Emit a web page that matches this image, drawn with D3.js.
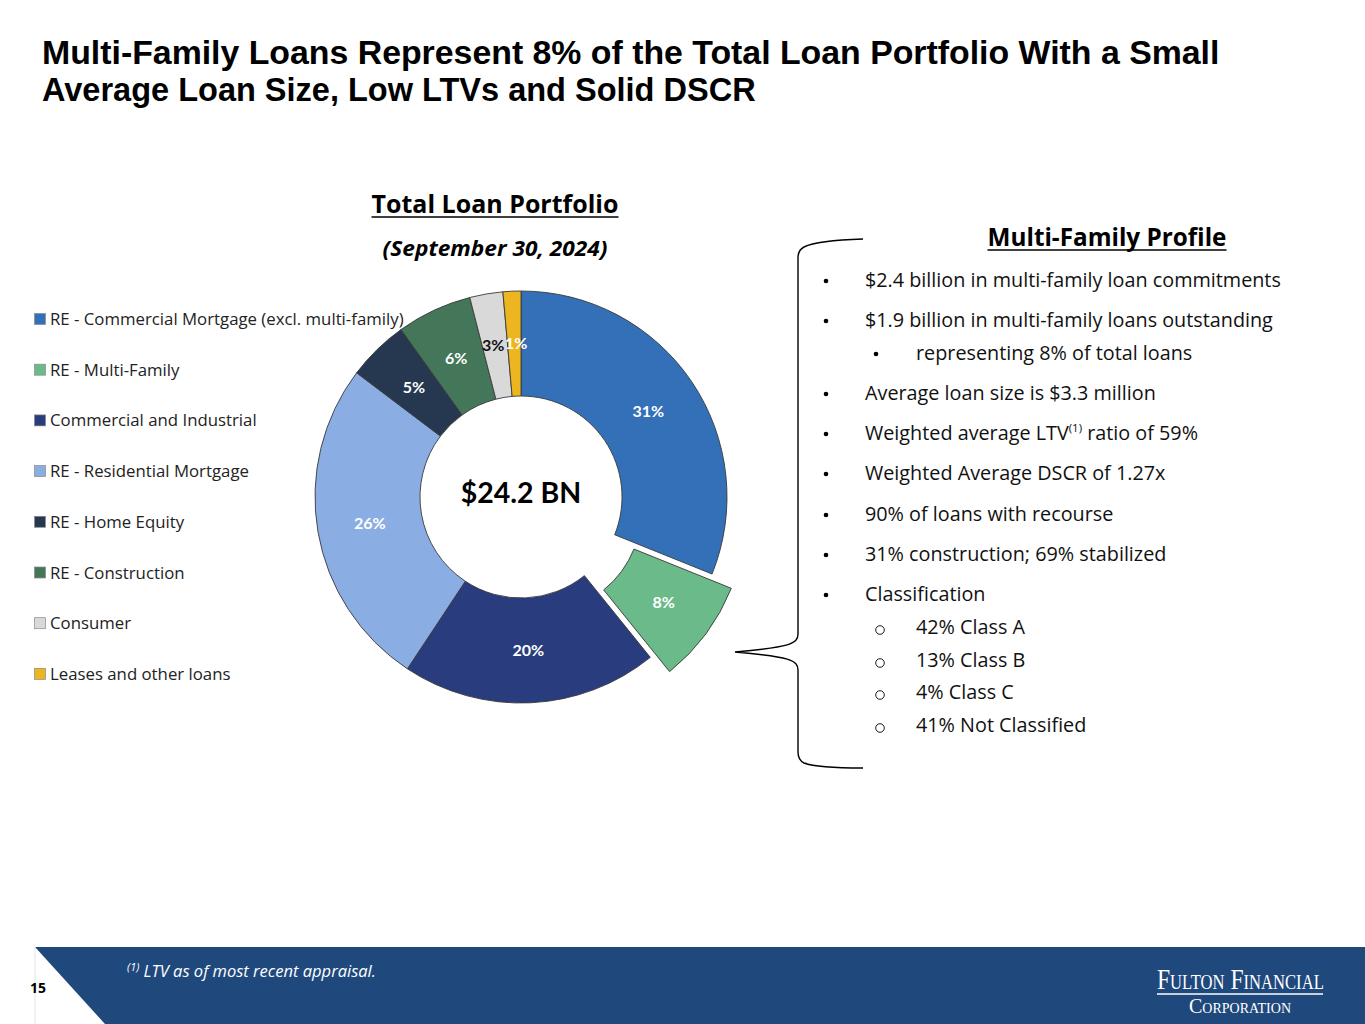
<!DOCTYPE html>
<html>
<head>
<meta charset="utf-8">
<script src="https://cdn.jsdelivr.net/npm/d3@7"></script>
<style>
	body { margin: 0; background: #ffffff; }
	svg { display: block; }
</style>
</head>
<body>
<div id="chart"></div>
<script>
// Slide data
var titleLines = [
	"Multi-Family Loans Represent 8% of the Total Loan Portfolio With a Small",
	"Average Loan Size, Low LTVs and Solid DSCR"
];
var chartTitle = "Total Loan Portfolio";
var chartDate = "(September 30, 2024)";
var totalLabel = "$24.2 BN";

var categories = [
	"RE - Commercial Mortgage (excl. multi-family)",
	"RE - Multi-Family",
	"Commercial and Industrial",
	"RE - Residential Mortgage",
	"RE - Home Equity",
	"RE - Construction",
	"Consumer",
	"Leases and other loans"
];
var shares = [31.1, 8.1, 20.1, 26.0, 4.8, 5.9, 2.6, 1.4];
var sliceColors = ["#3470b8", "#6bba8a", "#283c7e", "#8aaee3", "#263850", "#44775a", "#d9d9d9", "#edb620"];
var explodedCategory = "RE - Multi-Family";

var profileTitle = "Multi-Family Profile";
var profileItems = [
	{ level: 0, text: "$2.4 billion in multi-family loan commitments" },
	{ level: 0, text: "$1.9 billion in multi-family loans outstanding" },
	{ level: 1, text: "representing 8% of total loans" },
	{ level: 0, text: "Average loan size is $3.3 million" },
	{ level: 0, text: "Weighted average LTV", sup: "(1)", after: " ratio of 59%" },
	{ level: 0, text: "Weighted Average DSCR of 1.27x" },
	{ level: 0, text: "90% of loans with recourse" },
	{ level: 0, text: "31% construction; 69% stabilized" },
	{ level: 0, text: "Classification" },
	{ level: 2, text: "42% Class A" },
	{ level: 2, text: "13% Class B" },
	{ level: 2, text: "4% Class C" },
	{ level: 2, text: "41% Not Classified" }
];
var footnote = " LTV as of most recent appraisal.";
var pageNumber = "15";

var W = 1365, H = 1024;
var sans = "'Open Sans', 'Noto Sans', sans-serif";
var narrow = "'Liberation Sans Narrow', 'Liberation Sans', Arial, sans-serif";
var calib = "Lato, 'Open Sans', sans-serif";
var serif = "'Liberation Serif', 'DejaVu Serif', serif";

var svg = d3.select("#chart").append("svg")
	.attr("width", W)
	.attr("height", H);

// Squeeze or stretch a text (drawn at x=0) to a given width
var fitWidth = function(t, width)
{
	var w = t.node().getComputedTextLength();
	t.attr("transform", "scale(" + (width / w) + ",1)");
	return t;
};

// Title
svg.selectAll("g.title")
	.data(titleLines)
	.enter().append("g")
	.attr("class", "title")
	.attr("transform", function(d, i) { return "translate(42," + (64 + i * 37) + ")"; })
	.each(function(d, i)
	{
		var t = d3.select(this).append("text")
			.attr("font-family", narrow)
			.attr("font-weight", 700)
			.attr("font-size", 33)
			.attr("fill", "#000")
			.text(d);
		fitWidth(t, i == 0 ? 1178 : 714);
	});

// Underlined heading
var underlined = function(g, x, y, txt, size, len)
{
	var h = g.append("g").attr("transform", "translate(" + x + "," + y + ")");
	var t = h.append("text")
		.attr("text-anchor", "middle")
		.attr("font-family", sans)
		.attr("font-weight", 700)
		.attr("font-size", size)
		.attr("fill", "#000")
		.text(txt);
	fitWidth(t, len);
	h.append("line")
		.attr("x1", -len / 2).attr("x2", len / 2)
		.attr("y1", 4).attr("y2", 4)
		.attr("stroke", "#000")
		.attr("stroke-width", 1.6);
	return t;
};

underlined(svg, 495, 213, chartTitle, 24.5, 247);
var dateG = svg.append("g").attr("transform", "translate(495,256)");
fitWidth(dateG.append("text")
	.attr("text-anchor", "middle")
	.attr("font-family", sans)
	.attr("font-weight", 700)
	.attr("font-style", "italic")
	.attr("font-size", 21)
	.text(chartDate), 225);

// Legend
var legend = svg.append("g").attr("transform", "translate(34,319)");
var legendRow = legend.selectAll("g")
	.data(categories)
	.enter().append("g")
	.attr("transform", function(d, i) { return "translate(0," + (i * 50.7) + ")"; });

legendRow.append("rect")
	.attr("x", 0.5).attr("y", -5.5)
	.attr("width", 11).attr("height", 11)
	.attr("fill", function(d, i) { return sliceColors[i]; })
	.attr("stroke", "#8a8a8a")
	.attr("stroke-width", 0.7);

legendRow.append("text")
	.attr("x", 16)
	.attr("y", 6)
	.attr("font-family", sans)
	.attr("font-size", 16.8)
	.attr("fill", "#222")
	.text(function(d) { return d; });

// Donut
var cx = 521, cy = 497, rIn = 101, rOut = 206, explode = 24;
var pie = d3.pie().sort(null).value(function(d) { return d; });
var arc = d3.arc().innerRadius(rIn).outerRadius(rOut);
var arcs = pie(shares);

var donut = svg.append("g").attr("transform", "translate(" + cx + "," + cy + ")");

var offset = function(d, i)
{
	if (categories[i] !== explodedCategory) return [0, 0];
	var a = (d.startAngle + d.endAngle) / 2;
	return [Math.sin(a) * explode, -Math.cos(a) * explode];
};

// Label spots: centroids, pushed apart where two small slices sit side by side
var labelPos = arcs.map(function(d) { return arc.centroid(d); });
var minGap = 23;
for (var i = 1; i < labelPos.length; i++)
{
	var a = labelPos[i - 1], b = labelPos[i];
	var dx = b[0] - a[0];
	if (Math.abs(dx) < minGap && Math.abs(b[1] - a[1]) < 14)
	{
		var push = (minGap - Math.abs(dx)) / 2 * (dx < 0 ? -1 : 1);
		a[0] -= push;
		b[0] += push;
	}
}

var slice = donut.selectAll("g.slice")
	.data(arcs)
	.enter().append("g")
	.attr("class", "slice")
	.attr("transform", function(d, i)
	{
		var o = offset(d, i);
		return "translate(" + o[0] + "," + o[1] + ")";
	});

slice.append("path")
	.attr("d", arc)
	.attr("fill", function(d, i) { return sliceColors[i]; })
	.attr("stroke", "#3a3a3a")
	.attr("stroke-width", 0.9);

slice.append("text")
	.attr("transform", function(d, i) { return "translate(" + labelPos[i] + ")"; })
	.attr("dy", "0.35em")
	.attr("text-anchor", "middle")
	.attr("font-family", calib)
	.attr("font-weight", 700)
	.attr("font-size", 16)
	.attr("fill", function(d, i) { return categories[i] === "Consumer" ? "#111" : "#fff"; })
	.text(function(d) { return Math.round(d.data) + "%"; });

donut.append("text")
	.attr("y", -4)
	.attr("dy", "0.35em")
	.attr("text-anchor", "middle")
	.attr("font-family", calib)
	.attr("font-weight", 700)
	.attr("font-size", 28.5)
	.attr("fill", "#000")
	.text(totalLabel);

// Brace
svg.append("path")
	.attr("d", "M863,239 C830,240 812,243 804,247 C800,249 798,252 798,258 L798,634 C798,644 790,647 735,652 "
		+ "C790,657 798,660 798,670 L798,752 C798,758 800,761 804,763 C812,766 830,768 863,768")
	.attr("fill", "none")
	.attr("stroke", "#000")
	.attr("stroke-width", 1.4);

// Profile list
var profile = svg.append("g");
underlined(profile, 1107, 246, profileTitle, 24.5, 239);

var rowY = [280, 320, 353, 393, 433, 473, 514, 554, 594, 627, 660, 692, 725];
var item = profile.selectAll("g.item")
	.data(profileItems)
	.enter().append("g")
	.attr("class", "item")
	.attr("transform", function(d, i) { return "translate(0," + rowY[i] + ")"; });

item.filter(function(d) { return d.level < 2; })
	.append("circle")
	.attr("cx", function(d) { return d.level == 0 ? 826 : 876; })
	.attr("cy", 1)
	.attr("r", 2.3)
	.attr("fill", "#000");

item.filter(function(d) { return d.level == 2; })
	.append("circle")
	.attr("cx", 880)
	.attr("cy", 3)
	.attr("r", 4.3)
	.attr("fill", "none")
	.attr("stroke", "#000")
	.attr("stroke-width", 0.9);

var itemText = item.append("text")
	.attr("x", function(d) { return d.level == 0 ? 865 : 916; })
	.attr("y", 7)
	.attr("font-family", sans)
	.attr("font-size", 19.8)
	.attr("fill", "#111");

itemText.append("tspan").text(function(d) { return d.text; });
itemText.filter(function(d) { return d.sup; })
	.append("tspan")
	.attr("font-size", 11.5)
	.attr("dy", -8)
	.text(function(d) { return d.sup; });
itemText.filter(function(d) { return d.after; })
	.append("tspan")
	.attr("dy", 8)
	.text(function(d) { return d.after; });

// Footer band
var footer = svg.append("g");
footer.append("path")
	.attr("d", "M35,947 L" + W + ",947 L" + W + "," + H + " L105," + H + " Z")
	.attr("fill", "#1f497d");
footer.append("line")
	.attr("x1", 35).attr("x2", 35)
	.attr("y1", 947).attr("y2", H)
	.attr("stroke", "#e4e4e4")
	.attr("stroke-width", 1);

footer.append("text")
	.attr("x", 38)
	.attr("y", 993)
	.attr("text-anchor", "middle")
	.attr("font-family", sans)
	.attr("font-weight", 700)
	.attr("font-size", 14)
	.attr("fill", "#000")
	.text(pageNumber);

var note = footer.append("text")
	.attr("x", 127)
	.attr("y", 977)
	.attr("font-family", sans)
	.attr("font-style", "italic")
	.attr("font-size", 16.5)
	.attr("fill", "#fff");
note.append("tspan").attr("font-size", 11).attr("dy", -6).text("(1)");
note.append("tspan").attr("dy", 6).text(footnote);

// Logo, squeezed serif caps
var logoTop = footer.append("g").attr("transform", "translate(1157,989)");
fitWidth(logoTop.append("text")
	.attr("font-family", serif)
	.attr("font-size", 30)
	.attr("font-variant", "small-caps")
	.attr("fill", "#fff")
	.text("Fulton Financial"), 166);
footer.append("line")
	.attr("x1", 1157).attr("x2", 1323)
	.attr("y1", 994).attr("y2", 994)
	.attr("stroke", "#fff")
	.attr("stroke-width", 1.4);
var logoBottom = footer.append("g").attr("transform", "translate(1240,1013)");
fitWidth(logoBottom.append("text")
	.attr("text-anchor", "middle")
	.attr("font-family", serif)
	.attr("font-size", 20)
	.attr("font-variant", "small-caps")
	.attr("fill", "#fff")
	.text("Corporation"), 102);
</script>
</body>
</html>
